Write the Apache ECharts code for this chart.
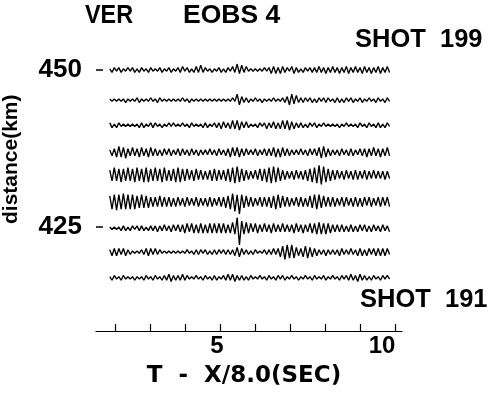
<!DOCTYPE html>
<html><head><meta charset="utf-8">
<script src="https://cdn.jsdelivr.net/npm/echarts@6/dist/echarts.min.js"></script>
<style>html,body{margin:0;padding:0;background:#fff}#c{width:490px;height:393px}</style>
</head><body><div id="c"></div>
<script>
// time axis of every trace (s): start and sample step
var traceStart = 1.85;
var traceStep = 0.065;
// distance (km) of each trace, top (SHOT 199) to bottom (SHOT 191)
var distances = [450.0, 445.2, 441.2, 436.9, 433.3, 429.0, 424.8, 421.0, 416.9];
// amplitudes (arbitrary units)
var tr199 = [1,-2,2,-1,2,-2,1,-1,2,-1, 2,-2,1,-2,2,-1,1,-2,2,-1, 1,-1,2,-2,1,-1,2,-2,1,-1, 2,-2,3,-1,2,-2,1,-2,3,-2,
  4,-2,2,-1,1,-2,1,-1,2,-2, 1,-2,2,-1,3,-2,5,-3,4,-2, 3,-1,1,-1,1,-1,1,-1,2,-1, 2,-3,3,-3,2,-3,3,-2,2,-1,
  3,-3,2,-2,1,-2,2,-1,2,-2, 2,-2,3,-2,2,-3,2,-2,3,-2, 2,-3,2,-2,3,-3,2,-2,3,-2, 2,-3,3,-2,2,-3,2,-2,3,-3, 2,-2,3,-2];
var tr198 = [1,-1,1,-1,1,-1,1,-2,1,-1, 1,-1,2,-2,1,-1,1,-1,2,-1, 1,-2,2,-1,1,-1,1,-1,1,-1, 1,-1,2,-1,1,-2,1,-1,1,-1,
  1,-1,1,-1,1,-1,1,-1,1,-1, 1,-1,1,-1,2,-1,5,-4,3,-2, 2,-2,1,-1,2,-1,1,-2,1,-1, 1,-1,2,-1,1,-1,2,-2,3,-4,
  5,-3,4,-2,2,-2,2,-1,2,-2, 1,-2,2,-1,2,-2,2,-1,1,-2, 2,-2,1,-2,2,-1,2,-2,1,-1, 2,-2,1,-1,2,-1,1,-2,2,-1, 1,-2,2,-1];
var tr197 = [2,-2,1,-2,2,-1,1,-1,1,-1, 1,-1,1,-2,2,-2,1,-1,2,-2, 2,-1,1,-2,1,-1,2,-1,2,-1, 1,-1,2,-1,1,-2,2,-1,1,-1,
  1,-2,2,-2,1,-1,2,-2,2,-3, 3,-2,2,-3,4,-3,4,-4,3,-2, 3,-2,1,-1,1,-2,2,-1,2,-3, 2,-2,3,-3,2,-3,4,-3,4,-4,
  3,-3,2,-2,2,-2,1,-2,2,-1, 2,-2,1,-1,2,-1,1,-1,1,-1, 1,-2,1,-1,2,-1,1,-1,1,-2, 2,-1,1,-2,2,-1,1,-2,2,-2, 1,-2,2,-1];
var tr196 = [2,-3,3,-4,5,-4,4,-5,3,-3, 4,-3,3,-4,4,-3,3,-4,4,-3, 3,-3,2,-3,3,-2,3,-3,2,-2, 3,-3,3,-2,2,-3,3,-2,2,-3,
  2,-2,2,-2,3,-2,2,-3,3,-2, 2,-3,3,-4,4,-3,4,-4,3,-3, 3,-2,2,-2,3,-3,2,-2,3,-3, 3,-3,4,-4,3,-4,4,-3,3,-3,
  2,-2,2,-2,3,-2,2,-3,3,-2, 3,-3,4,-5,5,-4,3,-3,2,-2, 2,-3,3,-2,2,-3,3,-3,2,-2, 3,-3,3,-4,3,-3,4,-3,3,-4, 3,-3,4,-3];
var tr195 = [4,-5,6,-5,5,-6,5,-5,6,-5, 5,-6,6,-5,5,-6,6,-6,5,-5, 6,-5,5,-6,6,-5,4,-5,5,-6, 6,-6,5,-5,5,-4,4,-5,5,-4,
  4,-4,3,-4,4,-5,5,-5,4,-4, 4,-5,5,-6,6,-7,7,-6,5,-5, 4,-4,3,-3,4,-4,5,-5,5,-6, 6,-7,7,-6,6,-5,4,-4,3,-3,
  3,-4,4,-3,3,-4,4,-5,5,-6, 6,-7,8,-8,7,-6,5,-5,4,-4, 4,-3,3,-4,4,-3,3,-4,4,-4, 3,-3,4,-4,3,-3,4,-3,3,-3, 3,-4,3,-3];
var tr194 = [5,-6,6,-7,6,-6,7,-6,6,-6, 6,-6,5,-5,6,-5,5,-5,4,-4, 4,-4,5,-4,4,-4,4,-4,3,-4, 4,-3,3,-4,4,-3,3,-3,4,-4,
  3,-3,3,-4,4,-4,3,-3,4,-4, 4,-5,5,-6,7,-8,6,-10,6,-5, 5,-4,4,-4,3,-3,4,-4,4,-4, 4,-5,5,-6,6,-5,5,-4,4,-4,
  3,-3,4,-4,4,-4,3,-4,5,-5, 6,-6,6,-5,5,-4,4,-4,4,-4, 3,-3,4,-4,4,-3,3,-4,4,-4, 3,-4,4,-3,4,-4,3,-3,4,-4, 4,-3,4,-4];
var tr193 = [1,-1,1,-1,1,-2,2,-2,1,-2, 2,-1,2,-2,2,-2,1,-2,2,-2, 2,-3,2,-2,3,-2,2,-3,3,-2, 3,-3,3,-4,4,-3,4,-4,3,-4,
  4,-4,3,-4,4,-4,4,-4,4,-4, 4,-4,3,-4,5,-5,9,-14,6,-5, 5,-4,4,-3,4,-4,3,-3,4,-3, 3,-4,4,-3,3,-3,4,-3,3,-3,
  3,-4,4,-3,3,-4,3,-3,4,-4, 4,-5,5,-5,4,-5,4,-4,3,-3, 3,-3,3,-3,2,-3,3,-3,2,-3, 3,-2,3,-3,2,-3,3,-2,2,-3, 3,-2,2,-3];
var tr192 = [2,-3,3,-3,3,-2,3,-3,2,-2, 1,-1,1,-1,2,-2,3,-3,3,-2, 3,-2,2,-1,1,-1,1,-1,1,-1, 1,-1,1,-1,2,-1,1,-2,2,-2,
  2,-1,2,-2,1,-2,2,-2,2,-1, 2,-2,2,-2,2,-3,4,-4,3,-2, 2,-2,1,-2,2,-1,1,-1,2,-2, 2,-2,3,-2,3,-4,5,-6,6,-5,
  6,-5,4,-3,3,-4,5,-5,4,-4, 3,-3,2,-2,2,-3,2,-2,2,-2, 2,-3,3,-2,2,-2,3,-2,2,-3, 3,-3,2,-3,3,-2,3,-3,3,-3, 3,-3,3,-2];
var tr191 = [1,-2,2,-1,1,-2,2,-1,1,-1, 1,-2,1,-1,1,-2,2,-1,1,-2, 2,-1,1,-2,2,-2,3,-3,2,-2, 2,-2,3,-2,2,-1,1,-1,2,-1,
  1,-2,2,-1,1,-2,2,-2,1,-1, 2,-2,3,-2,3,-3,2,-2,2,-2, 1,-2,2,-1,1,-1,2,-1,1,-2, 2,-1,1,-2,2,-1,2,-2,1,-1,
  2,-1,1,-2,1,-1,2,-1,1,-2, 2,-1,1,-1,2,-2,1,-1,2,-1, 1,-2,2,-1,2,-2,3,-2,2,-3, 3,-2,2,-2,1,-2,2,-1,1,-2, 2,-1,2,-1];
var traces = [tr199, tr198, tr197, tr196, tr195, tr194, tr193, tr192, tr191];
var xTicks = [2,3,4,5,6,7,8,9,10];
var xLabels = [5,10];
var yLabels = [425,450];

var ampScale = 0.19;
var series = traces.map(function (amps, k) {
  return {
    type: 'line', showSymbol: false, silent: true, animation: false,
    lineStyle: { color: '#000', width: 1.35 },
    data: amps.map(function (a, i) {
      return [traceStart + i * traceStep, distances[k] + a * ampScale];
    })
  };
});

var F = '"Liberation Sans", Arial, sans-serif';
var chart = echarts.init(document.getElementById('c'), null, { renderer: 'canvas' });
chart.setOption({
  animation: false,
  backgroundColor: '#fff',
  grid: { left: 96, right: 88, top: 40, bottom: 62, containLabel: false },
  xAxis: {
    type: 'value', min: 1.457, max: 10.2,
    axisLine: { show: true, lineStyle: { color: '#000', width: 1.2 } },
    axisTick: { show: true, inside: true, length: 7, customValues: xTicks, lineStyle: { color: '#000', width: 1.2 } },
    axisLabel: {
      customValues: xLabels, color: '#000', fontSize: 24, fontWeight: 'bold', fontFamily: F, margin: 3,
      formatter: function (v) { return v === 10 ? '{s|' + v + '}' : '{n|' + v + '}'; },
      rich: {
        n: { fontSize: 24, fontWeight: 'bold', fontFamily: F, color: '#000', padding: [0, 6, 0, 0] },
        s: { fontSize: 24, fontWeight: 'bold', fontFamily: F, color: '#000', padding: [0, 26, 0, 0] }
      }
    },
    splitLine: { show: false },
    name: 'T  -  X/8.0(SEC)', nameLocation: 'middle', nameGap: 34,
    nameTextStyle: { color: '#000', fontSize: 23, fontWeight: 'bold', fontFamily: '"DejaVu Sans", sans-serif', padding: [0, 10, 0, 0] }
  },
  yAxis: {
    type: 'value', min: 408.439, max: 454.777,
    axisLine: { show: false },
    axisTick: { show: true, inside: true, length: 7, customValues: yLabels, lineStyle: { color: '#000', width: 1.5 } },
    axisLabel: { customValues: yLabels, color: '#000', fontSize: 26, fontWeight: 'bold', fontFamily: F, margin: 14 },
    splitLine: { show: false }
  },
  graphic: [
    { type: 'text', x: 85, y: 3, scaleX: 0.9, style: { text: 'VER', font: 'bold 26px ' + F, fill: '#000' } },
    { type: 'text', x: 183, y: 3, scaleX: 1.02, style: { text: 'EOBS 4', font: 'bold 26px ' + F, fill: '#000' } },
    { type: 'text', x: 355, y: 28, scaleX: 1.02, style: { text: 'SHOT  199', font: 'bold 25px ' + F, fill: '#000' } },
    { type: 'text', x: 360, y: 288, scaleX: 1.02, style: { text: 'SHOT  191', font: 'bold 25px ' + F, fill: '#000' } },
    { type: 'text', x: 1, y: 224, rotation: Math.PI / 2, style: { text: 'distance(km)', font: 'bold 21px ' + F, fill: '#000' } }
  ],
  series: series
});
</script></body></html>
